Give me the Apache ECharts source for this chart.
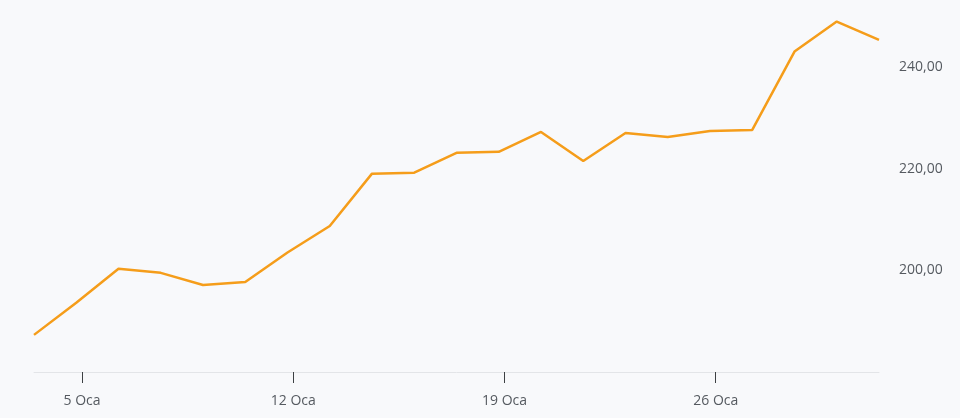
<!DOCTYPE html>
<html>
<head>
<meta charset="utf-8">
<script src="https://cdn.jsdelivr.net/npm/echarts@6/dist/echarts.min.js"></script>
<style>
html,body{margin:0;padding:0;background:#f8f9fb;}
#c{width:960px;height:418px;}
</style>
</head>
<body>
<div id="c"></div>
<script>
// Trading days (Jan 2026), index positions on an ordinal axis
var dates = ['2 Oca','5 Oca','6 Oca','7 Oca','8 Oca','9 Oca','12 Oca','13 Oca','14 Oca','15 Oca','16 Oca',
             '19 Oca','20 Oca','21 Oca','22 Oca','23 Oca','26 Oca','27 Oca','28 Oca','29 Oca','30 Oca'];
var values = [187.3,193.6,200.3,199.5,197.1,197.7,203.5,208.7,219.0,219.2,223.1,
              223.3,227.2,221.5,227.0,226.2,227.4,227.6,243.0,248.9,245.3];
var tickLabels = ['5 Oca','12 Oca','19 Oca','26 Oca'];
var tickOffset = 0.136;

var seriesData = values.map(function(v,i){ return [i, v]; });
var tickPos = tickLabels.map(function(l){ return dates.indexOf(l) + tickOffset; });

var chart = echarts.init(document.getElementById('c'), null, {renderer:'canvas'});
chart.setOption({
  backgroundColor:'#f8f9fb',
  animation:false,
  grid:{left:34, right:81, top:16, bottom:46},
  xAxis:{
    type:'value',
    min:0, max:dates.length-1,
    splitLine:{show:false},
    axisLine:{show:true, lineStyle:{color:'#e3e5e8', width:1}},
    axisTick:{show:true, length:11, customValues:tickPos, lineStyle:{color:'#3c4043', width:1}},
    axisLabel:{
      customValues:tickPos,
      margin:22,
      color:'#555a60',
      fontSize:14,
      fontFamily:'Open Sans, Noto Sans, sans-serif',
      formatter:function(v){
        var idx = Math.round(v - tickOffset);
        return dates[idx] || '';
      }
    }
  },
  yAxis:{
    type:'value',
    position:'right',
    min:180, max:250, interval:20,
    splitLine:{show:false},
    axisLine:{show:false},
    axisTick:{show:false},
    axisLabel:{
      showMinLabel:false, showMaxLabel:false,
      margin:20,
      color:'#555a60',
      fontSize:14,
      fontFamily:'Open Sans, Noto Sans, sans-serif',
      formatter:function(v){ return v.toFixed(2).replace('.', ','); }
    }
  },
  series:[{
    type:'line',
    data:seriesData,
    showSymbol:false,
    symbol:'none',
    lineStyle:{color:'#f59d1a', width:2.5},
    itemStyle:{color:'#f59d1a'}
  }]
});
</script>
</body>
</html>
